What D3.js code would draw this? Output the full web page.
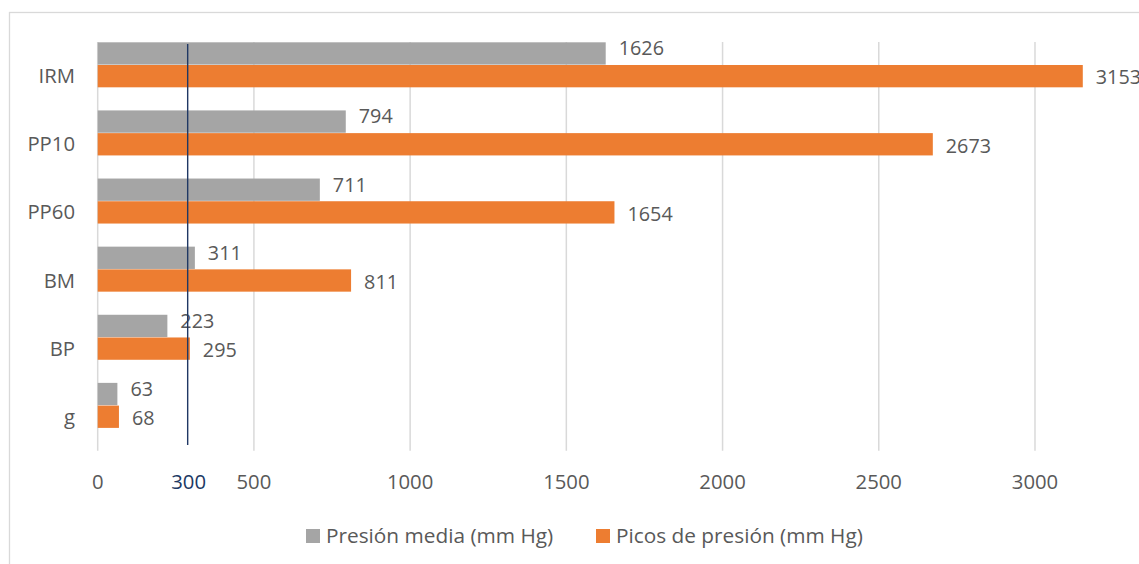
<!DOCTYPE html>
<html>
<head>
<meta charset="utf-8">
<script src="https://cdn.jsdelivr.net/npm/d3@7/dist/d3.min.js"></script>
<style>
  html, body { margin: 0; padding: 0; background: #fff; }
  svg { display: block; }
  text { font-family: "Open Sans", sans-serif; fill: #595959; }
</style>
</head>
<body>
<svg id="chart" width="1139" height="564"></svg>
<script>
// ---- data ----
const categories = ["IRM", "PP10", "PP60", "BM", "BP", "g"];
const presionMedia = [1626, 794, 711, 311, 223, 63];
const picosPresion = [3153, 2673, 1654, 811, 295, 68];
const seriesNames = ["Presión media (mm Hg)", "Picos de presión (mm Hg)"];
const xTicks = [0, 500, 1000, 1500, 2000, 2500, 3000];
const refLineValue = 288;      // position
const refLineLabel = "300";

const colors = ["#A5A5A5", "#ED7D31"];
const svg = d3.select("#chart");

// chart border
svg.append("rect")
  .attr("x", 9.5).attr("y", 12.5)
  .attr("width", 1200).attr("height", 600)
  .attr("fill", "none").attr("stroke", "#D9D9D9").attr("stroke-width", 1.3);

const x = d3.scaleLinear().domain([0, 3500]).range([97.7, 1191.2]);
const y = d3.scaleBand().domain(categories).range([42, 450.7]).padding(0);
const sub = d3.scaleBand().domain(["media", "picos", "extra"]).range([0, y.bandwidth()]).padding(0);

// gridlines
svg.append("g").selectAll("line").data(xTicks).join("line")
  .attr("x1", d => x(d)).attr("x2", d => x(d))
  .attr("y1", 42).attr("y2", 450.7)
  .attr("stroke", "#D9D9D9").attr("stroke-width", 1.5);

// bars
const rows = categories.map((c, i) => ({ c, media: presionMedia[i], picos: picosPresion[i] }));
const keys = ["media", "picos"];
keys.forEach((k, ki) => {
  svg.append("g").selectAll("rect").data(rows).join("rect")
    .attr("x", x(0))
    .attr("y", d => y(d.c) + sub(k) + 0.3)
    .attr("width", d => x(d[k]) - x(0))
    .attr("height", sub.bandwidth() - 0.4)
    .attr("fill", colors[ki]);
});

// data labels
const labelOffset = { media: -5, picos: 1.5 };
keys.forEach(k => {
  svg.append("g").selectAll("text").data(rows).join("text")
    .attr("x", d => x(d[k]) + 13)
    .attr("y", d => y(d.c) + sub(k) + sub.bandwidth() / 2 + labelOffset[k])
    .attr("dy", "0.35em")
    .attr("font-size", 19.8)
    .text(d => d[k]);
});

// reference line
svg.append("line")
  .attr("x1", x(refLineValue)).attr("x2", x(refLineValue))
  .attr("y1", 44).attr("y2", 445)
  .attr("stroke", "#203864").attr("stroke-width", 1.4);

// category labels
svg.append("g").selectAll("text").data(categories).join("text")
  .attr("x", 75)
  .attr("y", d => y(d) + y.bandwidth() / 2)
  .attr("dy", "0.35em")
  .attr("text-anchor", "end")
  .attr("font-size", 20.3)
  .text(d => d);

// x tick labels
svg.append("g").selectAll("text").data(xTicks).join("text")
  .attr("x", d => x(d))
  .attr("y", 482)
  .attr("dy", "0.35em")
  .attr("text-anchor", "middle")
  .attr("font-size", 20.3)
  .text(d => d);

svg.append("text")
  .attr("x", x(refLineValue) + 1)
  .attr("y", 482)
  .attr("dy", "0.35em")
  .attr("text-anchor", "middle")
  .attr("font-size", 20.3)
  .style("fill", "#203864")
  .text(refLineLabel);

// legend
const legendX = [306, 596];
seriesNames.forEach((name, i) => {
  svg.append("rect")
    .attr("x", legendX[i]).attr("y", 529)
    .attr("width", 14).attr("height", 14)
    .attr("fill", colors[i]);
  svg.append("text")
    .attr("x", legendX[i] + 20)
    .attr("y", 543)
    .attr("font-size", 20.8)
    .text(name);
});
</script>
</body>
</html>
